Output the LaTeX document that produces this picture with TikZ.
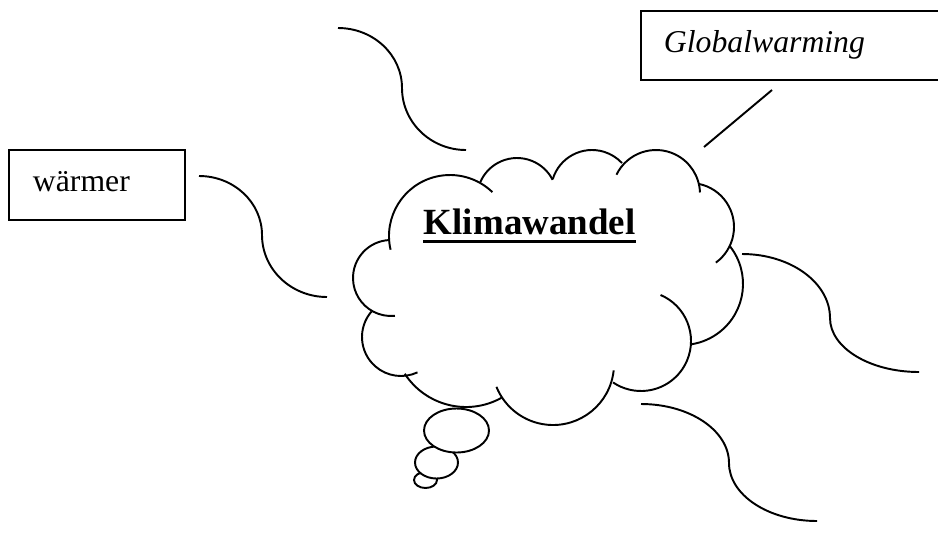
\documentclass[tikz,border=0pt]{standalone}
\usepackage{fontspec}
\setmainfont{Liberation Serif}
\tikzstyle{lbl}=[inner sep=0pt, anchor=base west, font=\fontsize{23.8}{28}\selectfont]
\tikzstyle{titel}=[inner sep=0pt, anchor=base west, font=\fontsize{27.7}{32}\selectfont\bfseries]
\tikzstyle{blase}=[fill=white]
\begin{document}
\begin{tikzpicture}[x=0.75pt,y=-0.75pt,line width=1.45pt]
        \useasboundingbox (0,0) rectangle (938,533);
        \clip (0,0) rectangle (938,533);
        % boxes and texts
        \draw (9,150) rectangle (185,220);
        \draw (32,191) node[lbl](waermer){wärmer};
        \draw (641,11) rectangle (960,80);
        \draw (663,52) node[lbl](global){\itshape Globalwarming};
        \draw (423,234) node[titel](klima){Klimawandel};
        \draw[line width=2.2pt] ([yshift=-5.5pt]klima.base west) -- ([yshift=-5.5pt]klima.base east);
        %
        \foreach \cx/\cy/\r/\a/\b in {450/236/61/167/314, 517/198/40/202/333, 592/191/41/197/317,
                656/194/44/206/358, 690/227/44/281/414, 682/284/61/322/441, 641/341/50/293/484,
                553/364/61/6/158, 466/334/73/147/61, 401/337/39/221/65, 391/278/38/268/84}
            \draw ([shift={(\a:\r)}]\cx,\cy) arc[start angle=\a, end angle=\b, radius=\r];
        %
        \draw[blase] (425.5,480) ellipse[x radius=11.5, y radius=8];
        \draw[blase] (436.5,462.5) ellipse[x radius=21.5, y radius=16];
        \draw[blase] (456.5,430.5) ellipse[x radius=32.5, y radius=22];
        % connectors
        \draw (338,28) arc[start angle=-90, end angle=0, x radius=64, y radius=60]
                       arc[start angle=180, end angle=90, x radius=64, y radius=62];
        \draw (199,176) arc[start angle=-90, end angle=0, x radius=63, y radius=59]
                        arc[start angle=180, end angle=90, x radius=65, y radius=62];
        \draw (742,254) arc[start angle=-90, end angle=0, x radius=88, y radius=64]
                        arc[start angle=180, end angle=90, x radius=89, y radius=54];
        \draw (641,404) arc[start angle=-90, end angle=0, x radius=88, y radius=59]
                        arc[start angle=180, end angle=90, x radius=88, y radius=58];
        \coordinate (gl) at (772,90);
        \coordinate (wl) at (704,147);
        \draw (gl) -- (wl);
\end{tikzpicture}
\end{document}
